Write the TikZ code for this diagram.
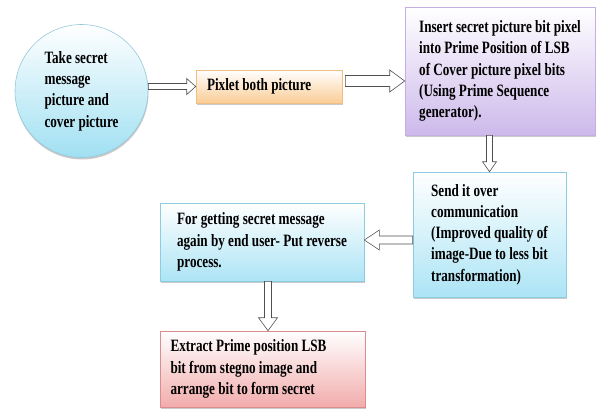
\documentclass[tikz,border=0pt]{standalone}
\usepackage{fontspec}
\newfontfamily\boxfont{Liberation Serif Bold}[FakeStretch=0.76]
\usetikzlibrary{calc, shadows}
\definecolor{CircleBlue}{RGB}{160,224,242}
\definecolor{CircleEdge}{RGB}{150,200,218}
\definecolor{PixOrange}{RGB}{250,205,150}
\definecolor{PixEdge}{RGB}{238,190,130}
\definecolor{InsLilac}{RGB}{205,185,235}
\definecolor{InsEdge}{RGB}{195,175,225}
\definecolor{SendCyan}{RGB}{172,228,245}
\definecolor{SendEdge}{RGB}{140,205,225}
\definecolor{ExtPink}{RGB}{242,172,172}
\definecolor{ExtEdge}{RGB}{220,140,140}
\definecolor{ArrowGray}{RGB}{80,80,80}

\begin{document}
\begin{tikzpicture}[x=1pt, y=-1pt,
    every node/.style={font=\boxfont\fontsize{17.3}{21.3}\selectfont, align=left},
    stepbox/.style 2 args={draw=#2, line width=0.6pt, top color=white, middle color=#1!35!white, bottom color=#1,
      drop shadow={shadow xshift=0.5pt, shadow yshift=-2pt, fill=gray!70, opacity=0.6}},
    hollowarrow/.style n args={3}{draw=ArrowGray, fill=white, line width=0.6pt,
      to path={($(\tikztostart)!#1!90:(\tikztotarget)$)
        -- ($(\tikztotarget)!#3!(\tikztostart)!#1!-90:(\tikztostart)$)
        -- ($(\tikztotarget)!#3!(\tikztostart)!#2!-90:(\tikztostart)$)
        -- (\tikztotarget)
        -- ($(\tikztotarget)!#3!(\tikztostart)!#2!90:(\tikztostart)$)
        -- ($(\tikztotarget)!#3!(\tikztostart)!#1!90:(\tikztostart)$)
        -- ($(\tikztostart)!#1!-90:(\tikztotarget)$) -- cycle}}]
    \useasboundingbox (0,0) rectangle (597,410);

    % Steps
    \node[circle, stepbox={CircleBlue}{CircleEdge}, minimum size=133pt] (circ) at (81.5,91)
      {Take secret\\ message\\ picture and\\ cover picture};
    \node[rectangle, stepbox={PixOrange}{PixEdge}, minimum width=146pt, minimum height=33pt, text width=124pt, align=flush left] (pix) at (269,86.5)
      {Pixlet both picture};
    \node[rectangle, stepbox={InsLilac}{InsEdge}, minimum width=190pt, minimum height=128pt] (ins) at (500,71)
      {Insert secret picture bit pixel\\ into Prime Position of LSB\\ of Cover picture pixel bits\\ (Using Prime Sequence\\ generator).};
    \node[rectangle, stepbox={SendCyan}{SendEdge}, minimum width=153pt, minimum height=125pt] (send) at (489.5,234.5)
      {Send it over\\ communication\\ (Improved quality of\\ image-Due to less bit\\ transformation)};
    \node[rectangle, stepbox={SendCyan}{SendEdge}, minimum width=204pt, minimum height=78pt] (get) at (262,242)
      {For getting secret message\\ again by end user- Put reverse\\ process.};
    \node[rectangle, stepbox={ExtPink}{ExtEdge}, minimum width=205pt, minimum height=76pt, text width=184pt, align=flush left] (ext) at (262.5,369)
      {Extract Prime position LSB\\ bit from stegno image and\\ arrange bit to form secret};

    % Arrows
    \coordinate (c1) at (circ.east |- pix.west);
    \draw[hollowarrow={3pt}{8pt}{9pt}] (c1) to (pix.west);
    \coordinate (c2) at ([xshift=3pt, yshift=5.5pt]pix.east);
    \coordinate (c2e) at (c2 -| ins.west);
    \draw[hollowarrow={5.5pt}{11pt}{15pt}] (c2) to (c2e);
    \coordinate (c3) at (send.north |- ins.south);
    \draw[hollowarrow={3pt}{7pt}{10pt}] (c3) to (send.north);
    \coordinate (c4) at ([yshift=2pt]send.west |- get.east);
    \coordinate (c4e) at ([yshift=2pt]get.east);
    \draw[hollowarrow={4pt}{10pt}{15pt}] (c4) to (c4e);
    \coordinate (c5) at ([xshift=6pt]get.south);
    \coordinate (c5e) at (c5 |- ext.north);
    \draw[hollowarrow={3.5pt}{9.5pt}{13pt}] (c5) to (c5e);
\end{tikzpicture}
\end{document}
